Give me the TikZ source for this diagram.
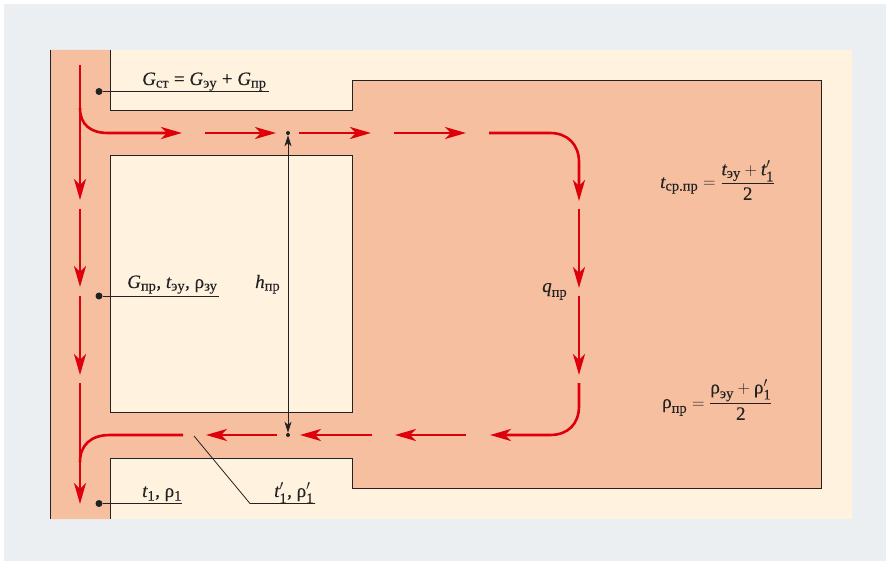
\documentclass[tikz,border=0pt]{standalone}
\usepackage{amsmath}
\usepackage{fontspec}
\setmainfont{Liberation Serif}[FakeBold=0.25]
\usetikzlibrary{arrows.meta}

\definecolor{panelgray}{HTML}{EBEFF2}
\definecolor{creamfill}{HTML}{FFF3E0}
\definecolor{salmonfill}{HTML}{F6BFA0}
\definecolor{flowred}{HTML}{DD000B}
\definecolor{inkdark}{HTML}{222222}

\newcommand{\tI}{\textit{t}}
\newcommand{\GI}{\textit{G}}
\newcommand{\idx}[1]{\mbox{\fontsize{14.5}{15}\selectfont #1}}

\begin{document}
\begin{tikzpicture}[
  x = 1pt, y = -1pt,
  wall/.style = {draw = inkdark, line width = 1pt},
  flow/.style = {draw = flowred, line width = 2.6pt,
    -{Stealth[length = 21pt, width = 12pt, inset = 6pt]}},
  flowend/.style = {draw = flowred, line width = 2.6pt},
  leader/.style = {draw = inkdark, line width = 0.8pt},
  bigdot/.style = {circle, fill = inkdark, inner sep = 0pt, minimum size = 7pt},
  smalldot/.style = {circle, fill = inkdark, inner sep = 0pt, minimum size = 4pt},
  dimline/.style = {draw = inkdark, line width = 0.8pt,
    {Stealth[length = 11pt, width = 7pt, inset = 3pt]}-{Stealth[length = 11pt, width = 7pt, inset = 3pt]}},
  lbl/.style = {anchor = base west, inner sep = 0pt, text = inkdark,
    font = \fontsize{19}{21}\selectfont}
]
  % Fon
  \useasboundingbox (0,0) rectangle (886,561);
  \fill[white] (0,0) rectangle (886,561);
  \fill[panelgray] (4,4) rectangle (886,561);
  \fill[creamfill] (50,50) rectangle (852,519);

  % Kanal
  \fill[salmonfill] (50,50) -- (110.5,50) -- (110.5,110.5) -- (352.5,110.5) -- (352.5,80.5) -- (821.5,80.5)
    -- (821.5,488.5) -- (352.5,488.5) -- (352.5,458.5) -- (110.5,458.5) -- (110.5,519) -- (50,519) -- cycle;
  \draw[wall] (50.5,50) -- (50.5,519);
  \draw[wall] (110.5,50) -- (110.5,110.5) -- (352.5,110.5) -- (352.5,80.5) -- (821.5,80.5)
    -- (821.5,488.5) -- (352.5,488.5) -- (352.5,458.5) -- (110.5,458.5) -- (110.5,519);
  \draw[wall, fill = creamfill] (110.5,155.5) rectangle (352.5,412.5);

  % Punkte
  \node[bigdot] (dotGst) at (99,91.5) {};
  \node[bigdot] (dotGpr) at (99,296) {};
  \node[bigdot] (dotTone) at (99,503.5) {};
  \node[smalldot] (dotTop) at (288,133) {};
  \node[smalldot] (dotBot) at (288,435) {};
  \coordinate (endGst) at (269,91.5);
  \coordinate (endGpr) at (219,296);
  \coordinate (endTone) at (182,503.5);
  \coordinate (startPrime) at (194,436);
  \coordinate (kneePrime) at (250,503.5);
  \coordinate (endPrime) at (315,503.5);

  % Fuehrungslinien
  \draw[leader] (dotGst) -- (endGst);
  \draw[leader] (dotGpr) -- (endGpr);
  \draw[leader] (dotTone) -- (endTone);
  \draw[leader] (startPrime) -- (kneePrime) -- (endPrime);
  \draw[dimline] (dotTop) -- (dotBot);

  % Senkrechter Strom
  \coordinate (V0) at (80,65);
  \coordinate (V1) at (80,200);
  \coordinate (V2) at (80,209);
  \coordinate (V3) at (80,287);
  \coordinate (V4) at (80,296);
  \coordinate (V5) at (80,375);
  \coordinate (V6) at (80,383);
  \coordinate (V7) at (80,504);
  \draw[flow] (V0) -- (V1);
  \draw[flow] (V2) -- (V3);
  \draw[flow] (V4) -- (V5);
  \draw[flow] (V6) -- (V7);

  % Oberer Strom
  \coordinate (T0) at (80,108);
  \coordinate (T1) at (108,133);
  \coordinate (T2) at (182,133);
  \coordinate (T3) at (205,133);
  \coordinate (T4) at (276,133);
  \coordinate (T5) at (299,133);
  \coordinate (T6) at (371,133);
  \coordinate (T7) at (394,133);
  \coordinate (T8) at (466,133);
  \coordinate (T9) at (489,133);
  \coordinate (T10) at (550,133);
  \draw[flow] (T0) .. controls (80,125) and (91,133) .. (T1) -- (T2);
  \draw[flow] (T3) -- (T4);
  \draw[flow] (T5) -- (T6);
  \draw[flow] (T7) -- (T8);

  % Rechter Strom
  \coordinate (R0) at (579,162);
  \coordinate (R1) at (579,201);
  \coordinate (R2) at (579,209);
  \coordinate (R3) at (579,288);
  \coordinate (R4) at (579,296);
  \coordinate (R5) at (579,375);
  \coordinate (R6) at (579,383);
  \coordinate (R7) at (579,406);
  \draw[flow] (T9) -- (T10) .. controls (568,133) and (579,145) .. (R0) -- (R1);
  \draw[flow] (R2) -- (R3);
  \draw[flow] (R4) -- (R5);

  % Unterer Strom
  \coordinate (B0) at (550,435);
  \coordinate (B1) at (490,435);
  \coordinate (B2) at (466,435);
  \coordinate (B3) at (395,435);
  \coordinate (B4) at (372,435);
  \coordinate (B5) at (300,435);
  \coordinate (B6) at (277,435);
  \coordinate (B7) at (206,435);
  \coordinate (B8) at (183,435);
  \coordinate (B9) at (110,435);
  \coordinate (B10) at (80,462);
  \draw[flow] (R6) -- (R7) .. controls (579,424) and (568,435) .. (B0) -- (B1);
  \draw[flow] (B2) -- (B3);
  \draw[flow] (B4) -- (B5);
  \draw[flow] (B6) -- (B7);
  \draw[flowend] (B8) -- (B9) .. controls (91,435) and (80,445) .. (B10);

  % Beschriftung
  \node[lbl] (labelGst) at (142,85) {$\GI_{\idx{ст}}$ = $\GI_{\idx{эу}}$ + $\GI_{\idx{пр}}$};
  \node[lbl] (labelGpr) at (127,288) {$\GI_{\idx{пр}}$, $\tI_{\idx{эу}}$, ρ$_{\idx{зу}}$};
  \node[lbl] (labelHpr) at (255,288) {$\textit{h}_{\idx{пр}}$};
  \node[lbl] (labelQpr) at (542,292) {$\textit{q}_{\idx{пр}}$};
  \node[lbl] (labelTone) at (142,497) {$\tI_{\idx{1}}$, ρ$_{\idx{1}}$};
  \node[lbl] (labelPrime) at (274,497) {$\tI'_{\idx{1}}$, ρ$'_{\idx{1}}$};
  \node[lbl] (labelTmean) at (660,188)
    {$\tI_{\idx{ср.пр}} = \dfrac{\tI_{\idx{эу}} + \tI'_{\idx{1}}}{\text{2}}$};
  \node[lbl] (labelRmean) at (662,408)
    {$\text{ρ}_{\idx{пр}} = \dfrac{\text{ρ}_{\idx{эу}} + \text{ρ}'_{\idx{1}}}{\text{2}}$};
\end{tikzpicture}
\end{document}
